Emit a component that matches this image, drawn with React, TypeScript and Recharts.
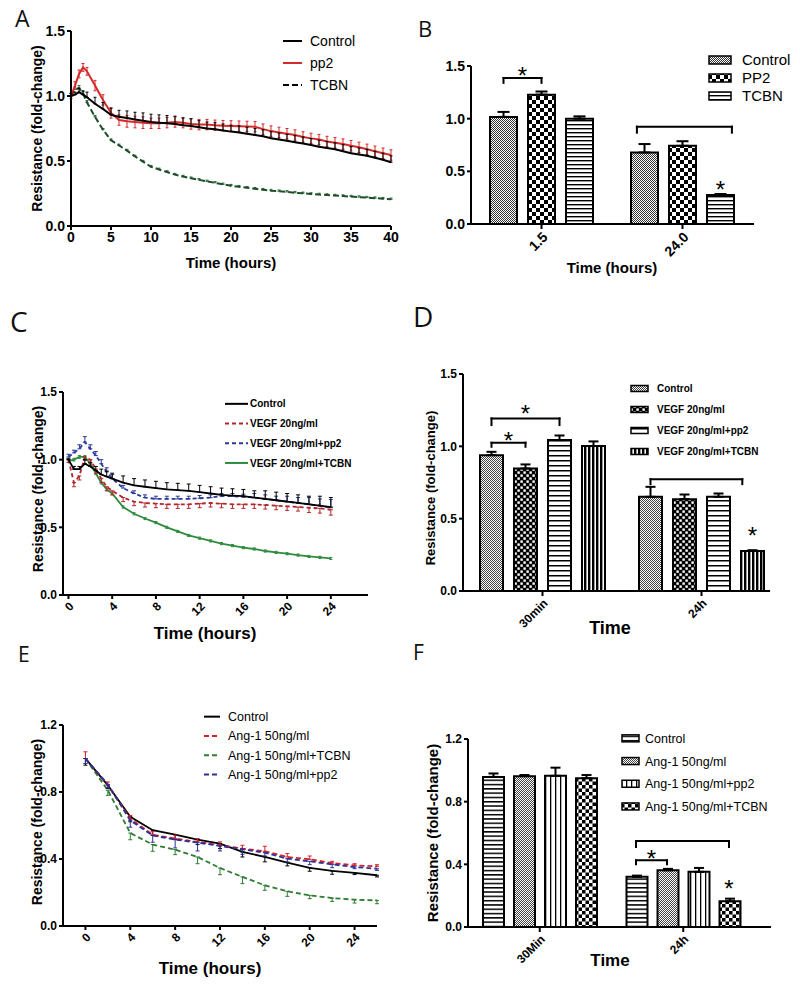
import React from 'react';
import {
  LineChart,
  Line,
  BarChart,
  Bar,
  XAxis,
  YAxis,
  ErrorBar,
  Legend,
  ReferenceLine,
  ReferenceDot,
} from 'recharts';

const FONT = '"Liberation Sans", Arial, Helvetica, sans-serif';

// ---------- A: resistance over 40 h ----------
const aHours = [0, 0.5, 1, 1.5, 2, 3, 4, 5, 6, 7, 8, 9, 10, 11, 12, 13, 14, 15, 16, 17, 18, 19, 20, 21, 22, 23, 24, 25, 26, 27, 28, 29, 30, 31, 32, 33, 34, 35, 36, 37, 38, 39, 40];
const aControl = [1.0, 1.01, 1.03, 1.01, 0.99, 0.94, 0.9, 0.855, 0.84, 0.83, 0.82, 0.81, 0.8, 0.795, 0.79, 0.785, 0.775, 0.77, 0.76, 0.75, 0.745, 0.735, 0.726, 0.72, 0.71, 0.7, 0.69, 0.675, 0.665, 0.655, 0.645, 0.635, 0.623, 0.61, 0.6, 0.59, 0.575, 0.56, 0.55, 0.54, 0.525, 0.51, 0.49];
const aControlErr = [0.02, 0.02, 0.03, 0.03, 0.04, 0.05, 0.05, 0.05, 0.05, 0.055, 0.055, 0.06, 0.06, 0.06, 0.06, 0.06, 0.055, 0.055, 0.05, 0.05, 0.05, 0.05, 0.05, 0.05, 0.05, 0.05, 0.05, 0.05, 0.05, 0.05, 0.05, 0.05, 0.05, 0.05, 0.05, 0.05, 0.05, 0.05, 0.05, 0.05, 0.05, 0.05, 0.05];
const aPp2 = [1.0, 1.08, 1.17, 1.22, 1.19, 1.08, 0.97, 0.87, 0.815, 0.805, 0.8, 0.795, 0.79, 0.79, 0.795, 0.8, 0.795, 0.785, 0.78, 0.78, 0.775, 0.772, 0.77, 0.768, 0.766, 0.764, 0.745, 0.73, 0.72, 0.71, 0.7, 0.685, 0.674, 0.665, 0.65, 0.64, 0.63, 0.618, 0.605, 0.59, 0.575, 0.56, 0.546];
const aPp2Err = [0.02, 0.03, 0.03, 0.03, 0.03, 0.04, 0.04, 0.04, 0.04, 0.045, 0.045, 0.045, 0.04, 0.04, 0.04, 0.04, 0.04, 0.04, 0.04, 0.04, 0.04, 0.04, 0.04, 0.04, 0.04, 0.04, 0.04, 0.04, 0.04, 0.04, 0.04, 0.04, 0.04, 0.04, 0.04, 0.04, 0.04, 0.04, 0.04, 0.04, 0.04, 0.04, 0.04];
const aTcbn = [1.0, 1.05, 1.06, 1.02, 0.95, 0.84, 0.74, 0.66, 0.62, 0.58, 0.535, 0.495, 0.456, 0.435, 0.415, 0.395, 0.38, 0.367, 0.355, 0.343, 0.332, 0.32, 0.31, 0.302, 0.294, 0.286, 0.279, 0.272, 0.267, 0.262, 0.256, 0.251, 0.246, 0.242, 0.238, 0.234, 0.23, 0.226, 0.222, 0.218, 0.214, 0.21, 0.205];
const aTcbnErr = [0.02, 0.02, 0.02, 0.015, 0.015, 0.01, 0.01, 0.01, 0.01, 0.01, 0.01, 0.01, 0.01, 0.01, 0.01, 0.01, 0.01, 0.01, 0.01, 0.01, 0.01, 0.01, 0.01, 0.01, 0.01, 0.01, 0.01, 0.01, 0.01, 0.01, 0.01, 0.01, 0.01, 0.01, 0.01, 0.01, 0.01, 0.01, 0.01, 0.01, 0.01, 0.01, 0.01];
const aTicks = [0, 5, 10, 15, 20, 25, 30, 35, 40];

// ---------- B: bars at 1.5 h and 24 h ----------
const bTimes = ['1.5', '24.0'];
const bControl = [1.017, 0.679];
const bControlErr = [0.047, 0.08];
const bPp2 = [1.228, 0.742];
const bPp2Err = [0.03, 0.044];
const bTcbn = [1.0, 0.275];
const bTcbnErr = [0.022, 0.01];
const bBrackets = [
  { group: 0, from: 0, to: 1, y: 1.386, legTo: 1.34 },
  { group: 1, from: -0.2, to: 2.3, y: 0.924, legTo: 0.867 },
];
const bStars = [
  { group: 0, at: 0.5, y: 1.41 },
  { group: 1, at: 2, y: 0.328 },
];

// ---------- C: VEGF time course ----------
const cHours = [0, 0.5, 1, 1.5, 2, 2.5, 3, 3.5, 4, 5, 6, 7, 8, 9, 10, 11, 12, 13, 14, 15, 16, 17, 18, 19, 20, 21, 22, 23, 24];
const cControl = [1.0, 0.93, 0.93, 0.97, 0.95, 0.92, 0.89, 0.875, 0.86, 0.83, 0.81, 0.8, 0.79, 0.78, 0.775, 0.77, 0.76, 0.75, 0.74, 0.735, 0.73, 0.72, 0.71, 0.7, 0.69, 0.68, 0.67, 0.66, 0.65];
const cControlErr = [0.01, 0.02, 0.02, 0.03, 0.03, 0.03, 0.04, 0.04, 0.04, 0.05, 0.05, 0.05, 0.05, 0.05, 0.05, 0.05, 0.05, 0.05, 0.05, 0.05, 0.05, 0.05, 0.06, 0.06, 0.06, 0.06, 0.06, 0.07, 0.07];
const cVegf = [1.0, 0.83, 0.88, 1.02, 1.0, 0.93, 0.86, 0.8, 0.77, 0.72, 0.69, 0.68, 0.675, 0.67, 0.67, 0.67, 0.675, 0.68, 0.675, 0.67, 0.67, 0.67, 0.665, 0.66, 0.655, 0.65, 0.645, 0.64, 0.63];
const cVegfErr = [0.02, 0.03, 0.03, 0.025, 0.03, 0.03, 0.03, 0.03, 0.03, 0.03, 0.03, 0.03, 0.03, 0.03, 0.03, 0.03, 0.03, 0.03, 0.03, 0.03, 0.03, 0.03, 0.03, 0.03, 0.03, 0.03, 0.035, 0.035, 0.04];
const cPp2 = [1.02, 1.05, 1.08, 1.13, 1.08, 1.03, 0.97, 0.91, 0.86, 0.79, 0.75, 0.72, 0.71, 0.71, 0.71, 0.71, 0.715, 0.72, 0.73, 0.73, 0.725, 0.72, 0.71, 0.7, 0.69, 0.68, 0.67, 0.66, 0.645];
const cPp2Err = [0.02, 0.02, 0.03, 0.04, 0.03, 0.03, 0.03, 0.03, 0.03, 0.02, 0.02, 0.02, 0.02, 0.02, 0.02, 0.02, 0.02, 0.02, 0.02, 0.02, 0.02, 0.03, 0.03, 0.03, 0.04, 0.04, 0.05, 0.05, 0.06];
const cTcbn = [0.99, 1.0, 1.02, 1.02, 0.97, 0.9, 0.83, 0.78, 0.75, 0.65, 0.6, 0.565, 0.535, 0.5, 0.47, 0.44, 0.42, 0.4, 0.38, 0.365, 0.35, 0.34, 0.325, 0.315, 0.305, 0.295, 0.285, 0.278, 0.27];
const cTcbnErr = [0.01, 0.01, 0.01, 0.01, 0.01, 0.01, 0.01, 0.01, 0.01, 0.008, 0.008, 0.008, 0.008, 0.008, 0.008, 0.008, 0.008, 0.008, 0.008, 0.008, 0.008, 0.008, 0.008, 0.008, 0.008, 0.008, 0.008, 0.008, 0.008];
const cTicks = [0, 4, 8, 12, 16, 20, 24];

// ---------- D: VEGF bars ----------
const dTimes = ['30min', '24h'];
const dControl = [0.939, 0.651];
const dControlErr = [0.023, 0.069];
const dVegf = [0.847, 0.635];
const dVegfErr = [0.028, 0.032];
const dPp2 = [1.043, 0.651];
const dPp2Err = [0.032, 0.023];
const dTcbn = [1.002, 0.277];
const dTcbnErr = [0.032, 0.005];
const dBrackets = [
  { group: 0, from: 0, to: 2, y: 1.193, legTo: 1.147 },
  { group: 0, from: 0, to: 1, y: 1.025, legTo: 0.997 },
  { group: 1, from: 0, to: 2.7, y: 0.773, legTo: 0.739 },
];
const dStars = [
  { group: 0, at: 1, y: 1.225 },
  { group: 0, at: 0.5, y: 1.041 },
  { group: 1, at: 3, y: 0.384 },
];

// ---------- E: Ang-1 time course ----------
const eHours = [0, 2, 4, 6, 8, 10, 12, 14, 16, 18, 20, 22, 24, 26];
const eControl = [1.0, 0.84, 0.652, 0.572, 0.546, 0.516, 0.492, 0.442, 0.413, 0.379, 0.347, 0.329, 0.317, 0.303];
const eControlErr = [0.04, 0.02, 0.03, 0.03, 0.03, 0.03, 0.03, 0.03, 0.03, 0.02, 0.02, 0.02, 0.01, 0.01];
const eAng = [1.0, 0.84, 0.64, 0.545, 0.522, 0.502, 0.482, 0.462, 0.446, 0.412, 0.398, 0.376, 0.362, 0.356];
const eAngErr = [0.04, 0.02, 0.02, 0.02, 0.02, 0.02, 0.02, 0.02, 0.03, 0.02, 0.02, 0.01, 0.01, 0.01];
const eTcbn = [1.0, 0.81, 0.555, 0.486, 0.456, 0.412, 0.346, 0.293, 0.243, 0.207, 0.183, 0.167, 0.157, 0.153];
const eTcbnErr = [0.03, 0.03, 0.04, 0.04, 0.03, 0.04, 0.04, 0.04, 0.03, 0.03, 0.02, 0.02, 0.02, 0.02];
const ePp2 = [1.0, 0.845, 0.63, 0.54, 0.516, 0.498, 0.478, 0.458, 0.438, 0.402, 0.386, 0.368, 0.352, 0.342];
const ePp2Err = [0.03, 0.02, 0.04, 0.04, 0.05, 0.05, 0.03, 0.03, 0.02, 0.02, 0.02, 0.02, 0.01, 0.01];
const eTicks = [0, 4, 8, 12, 16, 20, 24];

// ---------- F: Ang-1 bars ----------
const fTimes = ['30Min', '24h'];
const fControl = [0.958, 0.32];
const fControlErr = [0.022, 0.008];
const fAng = [0.963, 0.362];
const fAngErr = [0.007, 0.009];
const fPp2 = [0.965, 0.352];
const fPp2Err = [0.052, 0.025];
const fTcbn = [0.95, 0.164];
const fTcbnErr = [0.02, 0.017];
const fBrackets = [
  { group: 1, from: 0, to: 3, y: 0.549, legTo: 0.511 },
  { group: 1, from: 0, to: 1, y: 0.426, legTo: 0.4 },
];
const fStars = [
  { group: 1, at: 0.5, y: 0.436 },
  { group: 1, at: 3, y: 0.244 },
];

// ---------- shared helpers ----------
const axisStroke = { stroke: '#000', strokeWidth: 2 };
const tickFont = (size: number) => ({ fontSize: size, fontWeight: 700, fill: '#000', fontFamily: FONT });
const title = (value: string, size: number, extra: object) => ({
  value,
  position: 'center',
  fontSize: size,
  fontWeight: 700,
  fill: '#000',
  fontFamily: FONT,
  ...extra,
});
const oneDecimal = (v: number) => v.toFixed(1);

type Key = { name: string; color: string; dash?: string };

function lineLegend(items: Key[], left: number, top: number, rowH: number, lineW: number, textX: number, size: number, weight: number) {
  const h = rowH * items.length;
  const w = 399 - left;
  return (
    <Legend
      layout="horizontal"
      verticalAlign="middle"
      align="center"
      wrapperStyle={{ left, top, width: w, height: h }}
      content={() => (
        <svg width={w} height={h} style={{ display: 'block' }}>
          {items.map((k, i) => {
            const cy = rowH * i + rowH / 2;
            return (
              <g key={k.name}>
                <line x1={0} x2={lineW} y1={cy} y2={cy} stroke={k.color} strokeWidth={2} strokeDasharray={k.dash} />
                <text x={textX} y={cy} dy="0.36em" fontSize={size} fontWeight={weight} fontFamily={FONT} fill="#000">
                  {k.name}
                </text>
              </g>
            );
          })}
        </svg>
      )}
    />
  );
}

function barLegend(items: Key[], left: number, top: number, rowH: number, sw: number, sh: number, textX: number, size: number, weight: number) {
  const h = rowH * items.length;
  const w = 399 - left;
  return (
    <Legend
      layout="horizontal"
      verticalAlign="middle"
      align="center"
      wrapperStyle={{ left, top, width: w, height: h }}
      content={() => (
        <svg width={w} height={h} style={{ display: 'block' }}>
          {items.map((k, i) => {
            const cy = rowH * i + rowH / 2;
            return (
              <g key={k.name}>
                <rect x={1} y={cy - sh / 2} width={sw} height={sh} fill={k.color} stroke="#000" strokeWidth={1.5} />
                <text x={textX} y={cy} dy="0.36em" fontSize={size} fontWeight={weight} fontFamily={FONT} fill="#000">
                  {k.name}
                </text>
              </g>
            );
          })}
        </svg>
      )}
    />
  );
}

type BarLayout = { band: number; barSize: number; barGap: number; nBars: number; nGroups: number };
type Bracket = { group: number; from: number; to: number; y: number; legTo: number };
type Star = { group: number; at: number; y: number };

// bar centre on the hidden 0..1 axis that spans the plot width
function barX(l: BarLayout, group: number, idx: number) {
  const total = l.nBars * l.barSize + (l.nBars - 1) * l.barGap;
  const offset = Math.floor((l.band - total) / 2);
  return (group + (offset + idx * (l.barSize + l.barGap) + l.barSize / 2) / l.band) / l.nGroups;
}

function annotations(l: BarLayout, brackets: Bracket[], stars: Star[], axisEnd: number) {
  const seg = (key: string, x1: number, y1: number, x2: number, y2: number) => (
    <ReferenceLine
      key={key}
      xAxisId="n"
      ifOverflow="visible"
      stroke="#000"
      strokeWidth={2}
      strokeLinecap="square"
      segment={[{ x: x1, y: y1 }, { x: x2, y: y2 }]}
    />
  );
  const out = [seg('axis', 0, 0, axisEnd, 0)];
  brackets.forEach((b, i) => {
    const x1 = barX(l, b.group, b.from);
    const x2 = barX(l, b.group, b.to);
    out.push(seg(`a${i}`, x1, b.legTo, x1, b.y));
    out.push(seg(`b${i}`, x1, b.y, x2, b.y));
    out.push(seg(`c${i}`, x2, b.y, x2, b.legTo));
  });
  stars.forEach((s, i) => {
    out.push(
      <ReferenceDot
        key={`s${i}`}
        xAxisId="n"
        x={barX(l, s.group, s.at)}
        y={s.y}
        r={0}
        fill="none"
        stroke="none"
        ifOverflow="visible"
        label={{ value: '*', position: 'center', fontSize: 24, fill: '#000', fontFamily: FONT }}
      />,
    );
  });
  return out;
}

function checker(id: string, cell: number, fg = '#000', bg = '#fff') {
  return (
    <pattern id={id} key={id} width={cell * 2} height={cell * 2} patternUnits="userSpaceOnUse">
      <rect width={cell * 2} height={cell * 2} fill={bg} />
      <rect width={cell} height={cell} fill={fg} />
      <rect x={cell} y={cell} width={cell} height={cell} fill={fg} />
    </pattern>
  );
}

function stripes(id: string, period: number, thick: number, vertical: boolean) {
  return (
    <pattern id={id} key={id} width={period} height={period} patternUnits="userSpaceOnUse">
      <rect width={period} height={period} fill="#fff" />
      {vertical ? (
        <rect x={0} width={thick} height={period} fill="#000" />
      ) : (
        <rect y={0} width={period} height={thick} fill="#000" />
      )}
    </pattern>
  );
}

function dots(id: string) {
  return (
    <pattern id={id} key={id} width={6} height={6} patternUnits="userSpaceOnUse">
      <rect width={6} height={6} fill="#000" />
      <rect x={0.4} y={0.4} width={2.4} height={2.4} fill="#fff" />
      <rect x={3.4} y={3.4} width={2.4} height={2.4} fill="#fff" />
    </pattern>
  );
}

// ---------- panels ----------
function PanelA() {
  const data = aHours.map((t, i) => ({
    t,
    control: aControl[i],
    controlErr: [0, aControlErr[i]],
    pp2: aPp2[i],
    pp2Err: aPp2Err[i],
    tcbn: aTcbn[i],
    tcbnErr: [0, aTcbnErr[i]],
  }));
  const keys: Key[] = [
    { name: 'Control', color: '#000' },
    { name: 'pp2', color: '#d42a2a' },
    { name: 'TCBN', color: '#000', dash: '6 3' },
  ];
  return (
    <div style={{ position: 'absolute', left: 0, top: 20 }}>
      <LineChart width={400} height={262} data={data} margin={{ top: 11, right: 9, bottom: 0, left: 0 }}>
        <XAxis
          type="number"
          dataKey="t"
          domain={[0, 40]}
          ticks={aTicks}
          height={56}
          axisLine={axisStroke}
          tickLine={axisStroke}
          tickSize={4}
          tick={tickFont(14)}
          label={title('Time (hours)', 15, { dy: 9 })}
        />
        <YAxis
          domain={[0, 1.5]}
          ticks={[0, 0.5, 1, 1.5]}
          width={71}
          axisLine={axisStroke}
          tickLine={axisStroke}
          tickSize={4}
          tick={tickFont(14)}
          tickFormatter={oneDecimal}
          label={title('Resistance (fold-change)', 14, { angle: -90, dx: 1.5 })}
        />
        <Line dataKey="tcbn" stroke="#1f4d2b" strokeWidth={2} strokeDasharray="6 3" dot={false} isAnimationActive={false}>
          <ErrorBar dataKey="tcbnErr" width={1.5} stroke="#2e6b3a" strokeWidth={1} direction="y" />
        </Line>
        <Line dataKey="pp2" stroke="#d42a2a" strokeWidth={2} dot={false} isAnimationActive={false}>
          <ErrorBar dataKey="pp2Err" width={1.5} stroke="#d42a2a" strokeWidth={1} direction="y" />
        </Line>
        <Line dataKey="control" stroke="#000" strokeWidth={2} dot={false} isAnimationActive={false}>
          <ErrorBar dataKey="controlErr" width={1.5} stroke="#000" strokeWidth={1} direction="y" />
        </Line>
        {lineLegend(keys, 283, 10, 22, 19, 27, 14, 400)}
      </LineChart>
    </div>
  );
}

function PanelB() {
  const data = bTimes.map((time, i) => ({
    time,
    control: bControl[i],
    controlErr: [0, bControlErr[i]],
    pp2: bPp2[i],
    pp2Err: [0, bPp2Err[i]],
    tcbn: bTcbn[i],
    tcbnErr: [0, bTcbnErr[i]],
  }));
  const lay = { band: 141, barSize: 27, barGap: 11, nBars: 3, nGroups: 2 };
  const keys: Key[] = [
    { name: 'Control', color: 'url(#bCtrl)' },
    { name: 'PP2', color: 'url(#bPp2)' },
    { name: 'TCBN', color: 'url(#bTcbn)' },
  ];
  return (
    <div style={{ position: 'absolute', left: 400, top: 56 }}>
      <BarChart width={400} height={234} data={data} margin={{ top: 10, right: 47, bottom: 0, left: 0 }} barSize={27} barGap={11}>
        <defs>
          {checker('bCtrl', 1, '#333')}
          {checker('bPp2', 4)}
          {stripes('bTcbn', 4, 1.4, false)}
        </defs>
        <XAxis
          dataKey="time"
          interval={0}
          height={66}
          axisLine={false}
          tickLine={axisStroke}
          tickSize={5}
          angle={-45}
          textAnchor="end"
          tick={tickFont(14)}
          label={title('Time (hours)', 15, { dy: 11 })}
        />
        <XAxis xAxisId="n" type="number" domain={[0, 1]} hide allowDataOverflow />
        <YAxis
          domain={[0, 1.5]}
          ticks={[0, 0.5, 1, 1.5]}
          width={71}
          axisLine={axisStroke}
          tickLine={axisStroke}
          tickSize={4}
          tick={tickFont(14)}
          tickFormatter={oneDecimal}
        />
        <Bar dataKey="control" fill="url(#bCtrl)" stroke="#000" strokeWidth={2} isAnimationActive={false}>
          <ErrorBar dataKey="controlErr" width={6} stroke="#000" strokeWidth={2} direction="y" />
        </Bar>
        <Bar dataKey="pp2" fill="url(#bPp2)" stroke="#000" strokeWidth={2} isAnimationActive={false}>
          <ErrorBar dataKey="pp2Err" width={6} stroke="#000" strokeWidth={2} direction="y" />
        </Bar>
        <Bar dataKey="tcbn" fill="url(#bTcbn)" stroke="#000" strokeWidth={2} isAnimationActive={false}>
          <ErrorBar dataKey="tcbnErr" width={6} stroke="#000" strokeWidth={2} direction="y" />
        </Bar>
        {annotations(lay, bBrackets, bStars, 1)}
        {barLegend(keys, 308, -5, 18, 22, 8, 34, 15, 400)}
      </BarChart>
    </div>
  );
}

function PanelC() {
  const data = cHours.map((t, i) => ({
    t,
    control: cControl[i],
    controlErr: [0, cControlErr[i]],
    vegf: cVegf[i],
    vegfErr: [cVegfErr[i], 0],
    pp2: cPp2[i],
    pp2Err: [0, cPp2Err[i]],
    tcbn: cTcbn[i],
    tcbnErr: cTcbnErr[i],
  }));
  const keys: Key[] = [
    { name: 'Control', color: '#000' },
    { name: 'VEGF 20ng/ml', color: '#b3262b', dash: '4 3' },
    { name: 'VEGF 20ng/ml+pp2', color: '#2b3a99', dash: '4 3' },
    { name: 'VEGF 20ng/ml+TCBN', color: '#2e8b3e' },
  ];
  return (
    <div style={{ position: 'absolute', left: 0, top: 380 }}>
      <LineChart width={400} height={268} data={data} margin={{ top: 12, right: 32, bottom: 0, left: 0 }}>
        <XAxis
          type="number"
          dataKey="t"
          domain={[-0.5, 27.4]}
          ticks={cTicks}
          allowDataOverflow
          height={53}
          axisLine={axisStroke}
          tickLine={axisStroke}
          tickSize={4}
          angle={-45}
          textAnchor="end"
          tick={tickFont(12)}
          label={title('Time (hours)', 17, { dx: -10.5, dy: 11.5 })}
        />
        <YAxis
          domain={[0, 1.5]}
          ticks={[0, 0.5, 1, 1.5]}
          width={63}
          axisLine={axisStroke}
          tickLine={axisStroke}
          tickSize={4}
          tick={tickFont(12)}
          tickFormatter={oneDecimal}
          label={title('Resistance (fold-change)', 14, { angle: -90, dx: 6.5, dy: -4.5 })}
        />
        <Line dataKey="tcbn" stroke="#2e8b3e" strokeWidth={1.8} dot={false} isAnimationActive={false}>
          <ErrorBar dataKey="tcbnErr" width={1.5} stroke="#2e8b3e" strokeWidth={1} direction="y" />
        </Line>
        <Line dataKey="vegf" stroke="#b3262b" strokeWidth={1.8} strokeDasharray="4 3" dot={false} isAnimationActive={false}>
          <ErrorBar dataKey="vegfErr" width={2} stroke="#b3262b" strokeWidth={1} direction="y" />
        </Line>
        <Line dataKey="pp2" stroke="#2b3a99" strokeWidth={1.8} strokeDasharray="4 3" dot={false} isAnimationActive={false}>
          <ErrorBar dataKey="pp2Err" width={2} stroke="#2b3a99" strokeWidth={1} direction="y" />
        </Line>
        <Line dataKey="control" stroke="#000" strokeWidth={1.8} dot={false} isAnimationActive={false}>
          <ErrorBar dataKey="controlErr" width={2} stroke="#000" strokeWidth={1} direction="y" />
        </Line>
        {lineLegend(keys, 225, 14, 19.7, 23, 25, 10, 700)}
      </LineChart>
    </div>
  );
}

function PanelD() {
  const data = dTimes.map((time, i) => ({
    time,
    control: dControl[i],
    controlErr: [0, dControlErr[i]],
    vegf: dVegf[i],
    vegfErr: [0, dVegfErr[i]],
    pp2: dPp2[i],
    pp2Err: [0, dPp2Err[i]],
    tcbn: dTcbn[i],
    tcbnErr: [0, dTcbnErr[i]],
  }));
  const lay = { band: 159, barSize: 23, barGap: 11, nBars: 4, nGroups: 2 };
  const keys: Key[] = [
    { name: 'Control', color: 'url(#dCtrl)' },
    { name: 'VEGF 20ng/ml', color: 'url(#dVegf)' },
    { name: 'VEGF 20ng/ml+pp2', color: 'url(#dPp2)' },
    { name: 'VEGF 20ng/ml+TCBN', color: 'url(#dTcbn)' },
  ];
  return (
    <div style={{ position: 'absolute', left: 400, top: 360 }}>
      <BarChart width={400} height={288} data={data} margin={{ top: 14, right: 19, bottom: 0, left: 0 }} barSize={23} barGap={11}>
        <defs>
          {checker('dCtrl', 1, '#444')}
          {dots('dVegf')}
          {stripes('dPp2', 5, 1.5, false)}
          {stripes('dTcbn', 4, 2.4, true)}
        </defs>
        <XAxis
          dataKey="time"
          interval={0}
          height={57}
          axisLine={false}
          tickLine={axisStroke}
          tickSize={5}
          angle={-45}
          textAnchor="end"
          tick={tickFont(12)}
          label={title('Time', 18, { dx: -12, dy: 8.5 })}
        />
        <XAxis xAxisId="n" type="number" domain={[0, 1]} hide allowDataOverflow />
        <YAxis
          domain={[0, 1.5]}
          ticks={[0, 0.5, 1, 1.5]}
          width={63}
          axisLine={axisStroke}
          tickLine={axisStroke}
          tickSize={4}
          tick={tickFont(12)}
          tickFormatter={oneDecimal}
          label={title('Resistance (fold-change)', 13, { angle: -90, dx: -1.5, dy: 5.5 })}
        />
        <Bar dataKey="control" fill="url(#dCtrl)" stroke="#000" strokeWidth={2} isAnimationActive={false}>
          <ErrorBar dataKey="controlErr" width={5} stroke="#000" strokeWidth={2} direction="y" />
        </Bar>
        <Bar dataKey="vegf" fill="url(#dVegf)" stroke="#000" strokeWidth={2} isAnimationActive={false}>
          <ErrorBar dataKey="vegfErr" width={5} stroke="#000" strokeWidth={2} direction="y" />
        </Bar>
        <Bar dataKey="pp2" fill="url(#dPp2)" stroke="#000" strokeWidth={2} isAnimationActive={false}>
          <ErrorBar dataKey="pp2Err" width={5} stroke="#000" strokeWidth={2} direction="y" />
        </Bar>
        <Bar dataKey="tcbn" fill="url(#dTcbn)" stroke="#000" strokeWidth={2} isAnimationActive={false}>
          <ErrorBar dataKey="tcbnErr" width={5} stroke="#000" strokeWidth={2} direction="y" />
        </Bar>
        {annotations(lay, dBrackets, dStars, 0.9625)}
        {barLegend(keys, 230, 17.5, 21, 17, 6, 27, 10, 700)}
      </BarChart>
    </div>
  );
}

function PanelE() {
  const data = eHours.map((t, i) => ({
    t,
    control: eControl[i],
    controlErr: [eControlErr[i], 0],
    ang: eAng[i],
    angErr: [0, eAngErr[i]],
    tcbn: eTcbn[i],
    tcbnErr: [eTcbnErr[i], 0],
    pp2: ePp2[i],
    pp2Err: [ePp2Err[i], 0],
  }));
  const keys: Key[] = [
    { name: 'Control', color: '#000' },
    { name: 'Ang-1 50ng/ml', color: '#d4202a', dash: '5 3' },
    { name: 'Ang-1 50ng/ml+TCBN', color: '#2e7d32', dash: '5 3' },
    { name: 'Ang-1 50ng/ml+pp2', color: '#2c3197', dash: '5 3' },
  ];
  return (
    <div style={{ position: 'absolute', left: 0, top: 700 }}>
      <LineChart width={400} height={288} data={data} margin={{ top: 25, right: 23, bottom: 0, left: 0 }}>
        <XAxis
          type="number"
          dataKey="t"
          domain={[-2, 26]}
          ticks={eTicks}
          allowDataOverflow
          height={62}
          axisLine={axisStroke}
          tickLine={axisStroke}
          tickSize={4}
          angle={-45}
          textAnchor="end"
          tick={tickFont(12)}
          label={title('Time (hours)', 17, { dx: -10, dy: 11 })}
        />
        <YAxis
          domain={[0, 1.2]}
          ticks={[0, 0.4, 0.8, 1.2]}
          width={63}
          axisLine={axisStroke}
          tickLine={axisStroke}
          tickSize={4}
          tick={tickFont(12)}
          tickFormatter={oneDecimal}
          label={title('Resistance (fold-change)', 14, { angle: -90, dx: 5.5, dy: -3.5 })}
        />
        <Line dataKey="tcbn" stroke="#2e7d32" strokeWidth={1.8} strokeDasharray="5 3" dot={false} isAnimationActive={false}>
          <ErrorBar dataKey="tcbnErr" width={2} stroke="#2e7d32" strokeWidth={1} direction="y" />
        </Line>
        <Line dataKey="control" stroke="#000" strokeWidth={1.8} dot={false} isAnimationActive={false}>
          <ErrorBar dataKey="controlErr" width={2} stroke="#000" strokeWidth={1} direction="y" />
        </Line>
        <Line dataKey="ang" stroke="#d4202a" strokeWidth={1.8} strokeDasharray="5 3" dot={false} isAnimationActive={false}>
          <ErrorBar dataKey="angErr" width={2} stroke="#d4202a" strokeWidth={1} direction="y" />
        </Line>
        <Line dataKey="pp2" stroke="#2c3197" strokeWidth={1.8} strokeDasharray="5 3" dot={false} isAnimationActive={false}>
          <ErrorBar dataKey="pp2Err" width={2} stroke="#2c3197" strokeWidth={1} direction="y" />
        </Line>
        {lineLegend(keys, 204, 7.3, 19.3, 16, 24, 12.5, 400)}
      </LineChart>
    </div>
  );
}

function PanelF() {
  const data = fTimes.map((time, i) => ({
    time,
    control: fControl[i],
    controlErr: [0, fControlErr[i]],
    ang: fAng[i],
    angErr: [0, fAngErr[i]],
    pp2: fPp2[i],
    pp2Err: [0, fPp2Err[i]],
    tcbn: fTcbn[i],
    tcbnErr: [0, fTcbnErr[i]],
  }));
  const lay = { band: 143.5, barSize: 21, barGap: 10, nBars: 4, nGroups: 2 };
  const keys: Key[] = [
    { name: 'Control', color: 'url(#fCtrl)' },
    { name: 'Ang-1 50ng/ml', color: 'url(#fAng)' },
    { name: 'Ang-1 50ng/ml+pp2', color: 'url(#fPp2)' },
    { name: 'Ang-1 50ng/ml+TCBN', color: 'url(#fTcbn)' },
  ];
  return (
    <div style={{ position: 'absolute', left: 400, top: 715 }}>
      <BarChart width={400} height={273} data={data} margin={{ top: 24, right: 45, bottom: 0, left: 0 }} barSize={21} barGap={10}>
        <defs>
          {stripes('fCtrl', 4.3, 1.5, false)}
          {checker('fAng', 1, '#444')}
          {stripes('fPp2', 5, 1.3, true)}
          {checker('fTcbn', 3.5)}
        </defs>
        <XAxis
          dataKey="time"
          interval={0}
          height={61}
          axisLine={false}
          tickLine={axisStroke}
          tickSize={5}
          angle={-45}
          textAnchor="end"
          tick={tickFont(12)}
          label={title('Time', 17, { dx: -1.5, dy: 2.5 })}
        />
        <XAxis xAxisId="n" type="number" domain={[0, 1]} hide allowDataOverflow />
        <YAxis
          domain={[0, 1.2]}
          ticks={[0, 0.4, 0.8, 1.2]}
          width={68}
          axisLine={axisStroke}
          tickLine={axisStroke}
          tickSize={4}
          tick={tickFont(12)}
          tickFormatter={oneDecimal}
          label={title('Resistance (fold-change)', 15, { angle: -90, dx: -1 })}
        />
        <Bar dataKey="control" fill="url(#fCtrl)" stroke="#000" strokeWidth={2} isAnimationActive={false}>
          <ErrorBar dataKey="controlErr" width={5} stroke="#000" strokeWidth={2} direction="y" />
        </Bar>
        <Bar dataKey="ang" fill="url(#fAng)" stroke="#000" strokeWidth={2} isAnimationActive={false}>
          <ErrorBar dataKey="angErr" width={5} stroke="#000" strokeWidth={2} direction="y" />
        </Bar>
        <Bar dataKey="pp2" fill="url(#fPp2)" stroke="#000" strokeWidth={2} isAnimationActive={false}>
          <ErrorBar dataKey="pp2Err" width={5} stroke="#000" strokeWidth={2} direction="y" />
        </Bar>
        <Bar dataKey="tcbn" fill="url(#fTcbn)" stroke="#000" strokeWidth={2} isAnimationActive={false}>
          <ErrorBar dataKey="tcbnErr" width={5} stroke="#000" strokeWidth={2} direction="y" />
        </Bar>
        {annotations(lay, fBrackets, fStars, 1.0525)}
        {barLegend(keys, 221, 11.7, 22.7, 17, 7, 24, 12.5, 400)}
      </BarChart>
    </div>
  );
}

const panelLetters = [
  { text: 'A', x: 15, y: 27, size: 23 },
  { text: 'B', x: 418, y: 37, size: 22 },
  { text: 'C', x: 10, y: 332, size: 28 },
  { text: 'D', x: 413, y: 327, size: 28 },
  { text: 'E', x: 18, y: 662, size: 21 },
  { text: 'F', x: 413, y: 660, size: 21 },
];

export default function App() {
  return (
    <div style={{ position: 'absolute', left: 0, top: 0, width: 800, height: 988, background: '#fff', overflow: 'hidden' }}>
      <PanelA />
      <PanelB />
      <PanelC />
      <PanelD />
      <PanelE />
      <PanelF />
      <svg width={800} height={988} style={{ position: 'absolute', left: 0, top: 0, pointerEvents: 'none' }}>
        {panelLetters.map((p) => (
          <text key={p.text} x={p.x} y={p.y} fontSize={p.size} fontFamily='"Open Sans", "DejaVu Sans", sans-serif' fill="#111">
            {p.text}
          </text>
        ))}
      </svg>
    </div>
  );
}
